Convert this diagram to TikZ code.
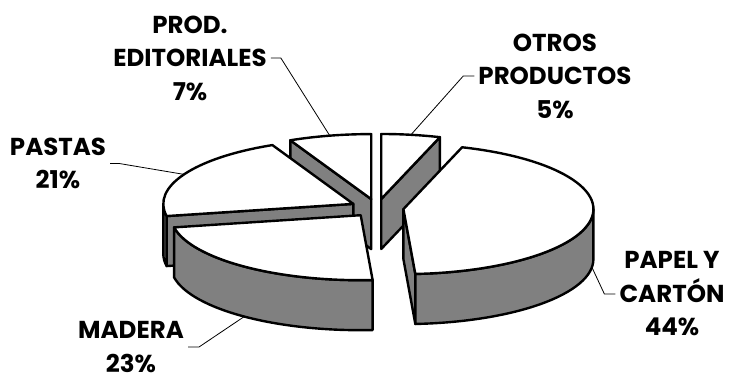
\documentclass[tikz,border=0pt]{standalone}
\usepackage{fontspec}
\setmainfont{Poppins}
\usepackage{tikz}
\definecolor{sidegray}{RGB}{128,128,128}
\tikzset{
  topface/.style={draw=black, fill=white, line width=2.4pt, line join=round},
  sideface/.style={draw=black, fill=sidegray, line width=2.4pt, line join=round},
  lbl/.style={font=\bfseries\fontsize{24.5}{33.5}\selectfont, align=center, inner xsep=4pt, inner ysep=1pt},
  leader/.style={draw=black, line width=0.8pt}
}

\begin{document}
\begin{tikzpicture}[x=1pt,y=1pt]
\useasboundingbox (0,0) rectangle (729,380);
% otros productos, 5%
\begin{scope}[shift={(381.2,181.0)}]
\filldraw [sideface] (0,0) -- (72:190pt and 65pt) -- ++(0,-50) -- (0,-50) -- cycle;
\filldraw [topface] (0,0) -- (90:190pt and 65pt) arc [start angle=90, end angle=72, x radius=190pt, y radius=65pt] -- cycle;
\coordinate (otros-pt) at ({190*cos(81)},{65*sin(81)});
\end{scope}
% prod. editoriales, 7%
\begin{scope}[shift={(371.2,180.9)}]
\filldraw [sideface] (0,0) -- (115.2:190pt and 65pt) -- ++(0,-50) -- (0,-50) -- cycle;
\filldraw [topface] (0,0) -- (115.2:190pt and 65pt) arc [start angle=115.2, end angle=90, x radius=190pt, y radius=65pt] -- cycle;
\coordinate (edit-pt) at ({190*cos(102.6)},{65*sin(102.6)});
\end{scope}
% pastas, 21%
\begin{scope}[shift={(353.3,176.1)}]
\filldraw [sideface] (0,0) -- (190.8:190pt and 65pt) -- ++(0,-50) -- (0,-50) -- cycle;
\filldraw [sideface] (180:190pt and 65pt) arc [start angle=180, end angle=190.8, x radius=190pt, y radius=65pt] -- ++(0,-50) arc [start angle=190.8, end angle=180, x radius=190pt, y radius=65pt] -- cycle;
\filldraw [topface] (0,0) -- (190.8:190pt and 65pt) arc [start angle=190.8, end angle=115.2, x radius=190pt, y radius=65pt] -- cycle;
\coordinate (pastas-pt) at ({190*cos(153)},{65*sin(153)});
\end{scope}
% papel y carton, 44%
\begin{scope}[shift={(403.4,170.9)}]
\filldraw [sideface] (0,0) -- (-86.4:190pt and 65pt) -- ++(0,-50) -- (0,-50) -- cycle;
\filldraw [sideface] (0:190pt and 65pt) arc [start angle=0, end angle=-86.4, x radius=190pt, y radius=65pt] -- ++(0,-50) arc [start angle=-86.4, end angle=0, x radius=190pt, y radius=65pt] -- cycle;
\filldraw [topface] (0,0) -- (72:190pt and 65pt) arc [start angle=72, end angle=-86.4, x radius=190pt, y radius=65pt] -- cycle;
\coordinate (papel-pt) at ({190*cos(-7.2)},{65*sin(-7.2)-50});
\end{scope}
% madera, 23%
\begin{scope}[shift={(360.7,164.8)}]
\filldraw [sideface] (-86.4:190pt and 65pt) arc [start angle=-86.4, end angle=-169.2, x radius=190pt, y radius=65pt] -- ++(0,-50) arc [start angle=-169.2, end angle=-86.4, x radius=190pt, y radius=65pt] -- cycle;
\filldraw [topface] (0,0) -- (-86.4:190pt and 65pt) arc [start angle=-86.4, end angle=-169.2, x radius=190pt, y radius=65pt] -- cycle;
\coordinate (madera-pt) at ({190*cos(-127.8)},{65*sin(-127.8)-50});
\end{scope}
% labels
\node [lbl] (edit) at (190,322) {PROD.\\EDITORIALES\\7\%};
\node [lbl] (otros) at (555,304) {OTROS\\PRODUCTOS\\5\%};
\node [lbl] (pastas) at (58,216.5) {PASTAS\\21\%};
\node [lbl] (madera) at (131,33) {MADERA\\23\%};
\node [lbl] (papel) at (672,86) {PAPEL Y\\CARTÓN\\44\%};
% leader lines
\draw [leader] (edit.east) -- ++(10,0) -- (edit-pt);
\draw [leader] (otros.west) -- ++(-11,0) -- (otros-pt);
\draw [leader] (pastas.east) -- ++(9,0) -- (pastas-pt);
\draw [leader] (madera.east) -- ++(11,0) -- (madera-pt);
\draw [leader] (papel.west) -- ++(-11,0) -- (papel-pt);
\end{tikzpicture}
\end{document}
